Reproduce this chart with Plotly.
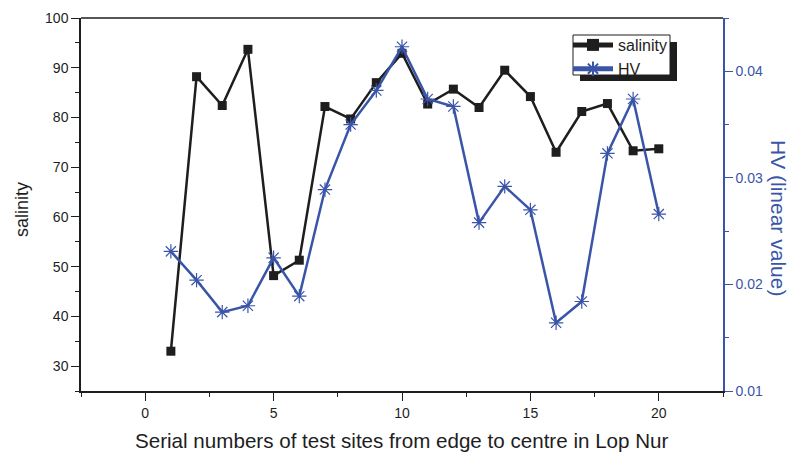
import plotly.graph_objects as go

sites = list(range(1, 21))
salinity = [33.0, 88.2, 82.4, 93.7, 48.2, 51.3, 82.2, 79.7, 87.0, 92.9,
            82.7, 85.7, 82.0, 89.5, 84.2, 73.0, 81.2, 82.8, 73.3, 73.7]
hv = [0.0231, 0.0204, 0.0174, 0.0180, 0.0225, 0.0189, 0.0289, 0.0350, 0.0382, 0.0423,
      0.0374, 0.0367, 0.0258, 0.0292, 0.0270, 0.0164, 0.0184, 0.0323, 0.0374, 0.0266]

BLACK = "#1e1e1e"
BLUE = "#3a55a8"
FONT = "Liberation Sans, Arial, sans-serif"

W, H = 795, 457
L, R, T, B = 81, 72, 18, 66
PW, PH = W - L - R, H - T - B


def px(x):
    return (x - L) / PW


def py(y):
    return (H - B - y) / PH


fig = go.Figure()
fig.add_trace(go.Scatter(x=sites, y=salinity, name="salinity", mode="lines+markers",
                         line=dict(color=BLACK, width=2.5),
                         marker=dict(symbol="square", size=9, color=BLACK)))
fig.add_trace(go.Scatter(x=sites, y=hv, name="HV", mode="lines+markers", yaxis="y2",
                         line=dict(color=BLUE, width=2.5),
                         marker=dict(symbol="asterisk-open", size=12,
                                     line=dict(color=BLUE, width=1.2), color=BLUE)))

# legend shadow and box
fig.add_shape(type="rect", xref="paper", yref="paper",
              x0=px(580), x1=px(677), y0=py(81), y1=py(42),
              fillcolor=BLACK, line=dict(width=0), layer="above")
fig.add_shape(type="rect", xref="paper", yref="paper",
              x0=px(573), x1=px(670), y0=py(75), y1=py(35),
              fillcolor="white", line=dict(color=BLACK, width=1), layer="above")
# top border line
fig.add_shape(type="line", xref="paper", yref="paper", x0=0, x1=1, y0=1, y1=1,
              line=dict(color=BLACK, width=1.5))

# axis titles
fig.add_annotation(text="Serial numbers of test sites from edge to centre in Lop Nur",
                   xref="paper", yref="paper", x=px(402), y=py(440),
                   showarrow=False, xanchor="center", yanchor="middle",
                   font=dict(size=20.6, color=BLACK, family=FONT))
fig.add_annotation(text="salinity", xref="paper", yref="paper", x=px(22), y=py(210),
                   showarrow=False, textangle=-90, xanchor="center", yanchor="middle",
                   font=dict(size=18, color=BLACK, family=FONT))
fig.add_annotation(text="HV (linear value)", xref="paper", yref="paper", x=px(779), y=py(218),
                   showarrow=False, textangle=90, xanchor="center", yanchor="middle",
                   font=dict(size=21, color=BLUE, family=FONT))

fig.update_layout(
    width=W, height=H,
    margin=dict(l=L, r=R, t=T, b=B, autoexpand=False),
    paper_bgcolor="white", plot_bgcolor="white",
    font=dict(family=FONT, color=BLACK, size=14),
    showlegend=True,
    legend=dict(x=px(568), y=py(28), xanchor="left", yanchor="top",
                bgcolor="rgba(0,0,0,0)", borderwidth=0, itemwidth=40,
                font=dict(size=16, family=FONT, color=BLACK),
                tracegroupgap=0, itemsizing="constant"),
    xaxis=dict(range=[-2.5, 22.5], tickvals=[0, 5, 10, 15, 20], automargin=False,
               showgrid=False, zeroline=False,
               showline=True, linecolor=BLACK, linewidth=1.5, mirror=False,
               ticks="outside", ticklen=8, tickcolor=BLACK, tickwidth=1.2,
               minor=dict(dtick=2.5, tick0=0, ticks="outside", ticklen=4, tickcolor=BLACK),
               tickfont=dict(size=14, color=BLACK)),
    yaxis=dict(range=[25, 100], tickvals=[30, 40, 50, 60, 70, 80, 90, 100], automargin=False,
               showgrid=False, zeroline=False,
               showline=True, linecolor=BLACK, linewidth=1.5,
               ticks="outside", ticklen=8, tickcolor=BLACK, tickwidth=1.2,
               minor=dict(dtick=5, tick0=25, ticks="outside", ticklen=4, tickcolor=BLACK),
               tickfont=dict(size=14, color=BLACK)),
    yaxis2=dict(range=[0.01, 0.045], overlaying="y", side="right", automargin=False,
                tickvals=[0.01, 0.02, 0.03, 0.04], ticktext=["0.01", "0.02", "0.03", "0.04"],
                showgrid=False, zeroline=False,
                showline=True, linecolor=BLUE, linewidth=1.5,
                ticks="outside", ticklen=8, tickcolor=BLUE, tickwidth=1.2,
                minor=dict(dtick=0.005, tick0=0.01, ticks="outside", ticklen=4, tickcolor=BLUE),
                tickfont=dict(size=14, color=BLUE)),
)

fig.write_html("out.html", config={"displayModeBar": False},
               post_script="document.body.style.margin='0px';document.body.style.padding='0px';document.body.style.overflow='hidden';")
